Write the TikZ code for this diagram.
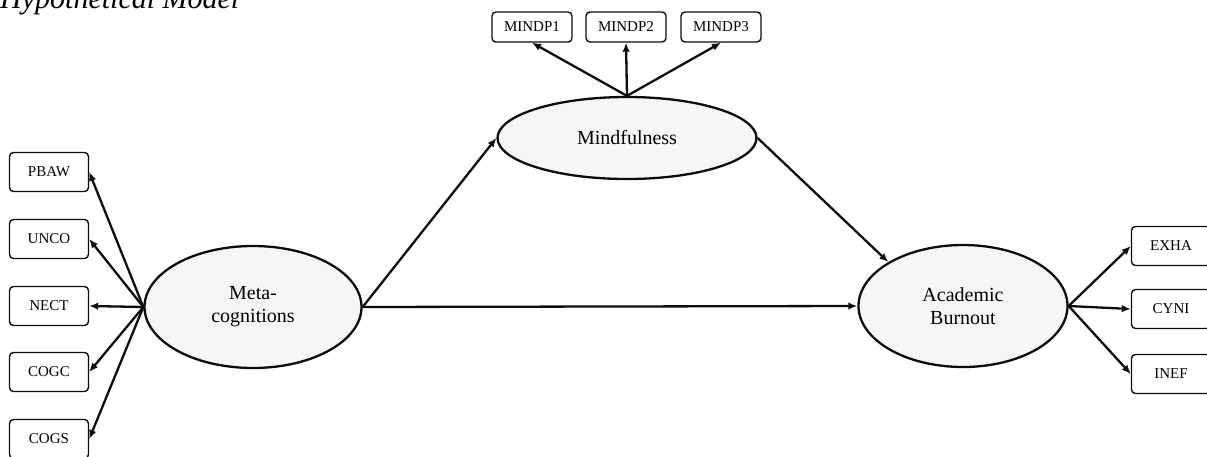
\documentclass[tikz,border=0pt]{standalone}
\usepackage{fontspec}
\setmainfont{Liberation Serif}
\usetikzlibrary{arrows.meta,shapes.geometric}
\definecolor{ink}{RGB}{12,12,12}
\definecolor{latentfill}{RGB}{246,246,246}

\begin{document}
\begin{tikzpicture}[x=1pt,y=-1pt,
    latent/.style={ellipse,draw=ink,line width=2.3pt,fill=latentfill,
      inner sep=0pt,align=center,font=\fontsize{20}{23}\selectfont},
    indicator/.style={draw=ink,line width=1.4pt,rounded corners=4pt,
      fill=white,minimum width=79pt,minimum height=39pt,inner sep=0pt,
      font=\fontsize{15}{18}\selectfont},
    loading/.style={draw=ink,line width=2.3pt,
      -{Latex[length=9pt,width=7.5pt]}}]
    \useasboundingbox (0,0) rectangle (1207,456);
    \node[anchor=base west,inner sep=0pt,
      font=\itshape\fontsize{30}{30}\selectfont] (title) at (0,8)
      {Hypothetical Model};
    \node[latent,minimum width=217pt,minimum height=122pt] (meta)
      at (253,307) {Meta-\\cognitions};
    \node[latent,minimum width=259pt,minimum height=82pt] (mind)
      at (627,138) {Mindfulness};
    \node[latent,minimum width=209pt,minimum height=122pt] (acad)
      at (963,306) {Academic\\Burnout};
    \foreach \name/\lbl/\yy in {pbaw/PBAW/172,unco/UNCO/239,
      nect/NECT/306,cogc/COGC/372,cogs/COGS/439}{
      \node[indicator] (\name) at (49,\yy) {\lbl};
      \draw[loading] (meta.west) -- (\name.east);
    }
    \foreach \name/\lbl/\xx in {mindpa/MINDP1/532,mindpb/MINDP2/626,
      mindpc/MINDP3/721}{
      \node[indicator,minimum width=80pt,minimum height=30pt] (\name)
        at (\xx,27) {\lbl};
      \draw[loading] (mind.north) -- (\name.south);
    }
    \foreach \name/\lbl/\yy in {exha/EXHA/246,cyni/CYNI/309,
      inef/INEF/374}{
      \node[indicator] (\name) at (1171,\yy) {\lbl};
      \draw[loading] (acad.east) -- (\name.west);
    }
    \draw[loading] (meta.east) -- (mind.west);
    \draw[loading] (mind.east) -- (acad.north west);
    \draw[loading] (meta.east) -- (acad.west);
  \end{tikzpicture}
\end{document}
